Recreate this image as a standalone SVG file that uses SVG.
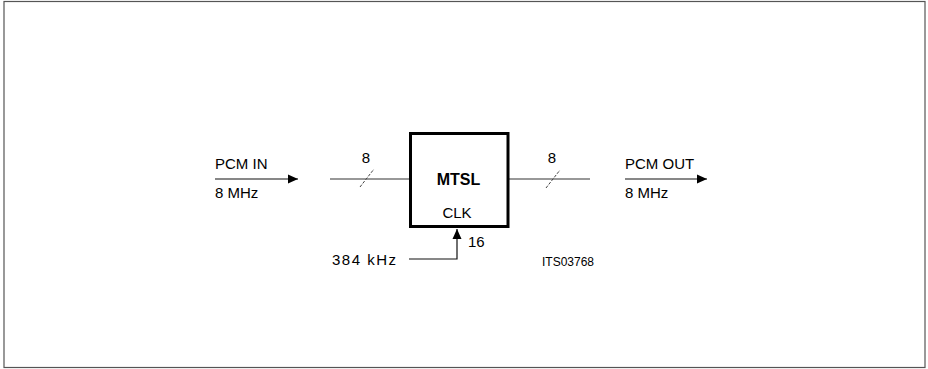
<svg xmlns="http://www.w3.org/2000/svg" width="928" height="369" viewBox="0 0 928 369">
  <defs>
    <marker id="arr" viewBox="0 0 10 10" refX="10" refY="5" markerWidth="10" markerHeight="10" markerUnits="userSpaceOnUse" orient="auto">
      <path d="M0,0.5 L10,5 L0,9.5 Z" fill="#000"/>
    </marker>
  </defs>
  <style>
    text { font-family: "Liberation Sans", Arial, sans-serif; fill: #000; }
    .lbl { font-size: 15px; }
    .small { font-size: 12px; }
    .bold { font-size: 16px; font-weight: bold; }
    .wire { stroke: #111; stroke-width: 1.2; fill: none; }
    .bus { stroke: #333; stroke-width: 1.1; fill: none; }
    .slash { stroke: #444; stroke-width: 1; fill: none; stroke-dasharray: 3 1.5; }
    .frame { stroke: #555; stroke-width: 1.2; fill: none; }
  </style>
  <rect width="928" height="369" fill="#fff"/>
  <rect id="frame" class="frame" x="4" y="1.5" width="921" height="366"/>

  <g id="connectors">
    <line class="wire" x1="215" y1="179" x2="298" y2="179" marker-end="url(#arr)"/>
    <line class="bus" x1="330" y1="179" x2="409" y2="179"/>
    <line class="slash" x1="360" y1="187" x2="374" y2="169"/>
    <line class="bus" x1="509" y1="179" x2="590" y2="179"/>
    <line class="slash" x1="546" y1="188" x2="560" y2="170"/>
    <line class="wire" x1="625" y1="179" x2="707" y2="179" marker-end="url(#arr)"/>
    <polyline class="wire" points="409,259 457,259 457,229" marker-end="url(#arr)"/>
  </g>

  <g id="mtsl">
    <rect x="410.5" y="133.5" width="97.5" height="93" fill="#fff" stroke="#000" stroke-width="3"/>
    <text class="bold" x="458.5" y="185" text-anchor="middle">MTSL</text>
    <text class="lbl" x="457" y="218" text-anchor="middle">CLK</text>
  </g>

  <g id="pcm-in">
    <text class="lbl" x="215" y="169">PCM IN</text>
    <text class="lbl" x="215" y="198">8 MHz</text>
  </g>
  <g id="bus-in-label">
    <text class="lbl" x="366" y="163" text-anchor="middle">8</text>
  </g>
  <g id="bus-out-label">
    <text class="lbl" x="552" y="163" text-anchor="middle">8</text>
  </g>
  <g id="pcm-out">
    <text class="lbl" x="625" y="169">PCM OUT</text>
    <text class="lbl" x="625" y="198">8 MHz</text>
  </g>
  <g id="clock">
    <text class="lbl" x="332" y="265" textLength="64">384 kHz</text>
    <text class="lbl" x="468" y="247">16</text>
  </g>
  <g id="ref">
    <text class="small" x="542" y="266">ITS03768</text>
  </g>
</svg>
